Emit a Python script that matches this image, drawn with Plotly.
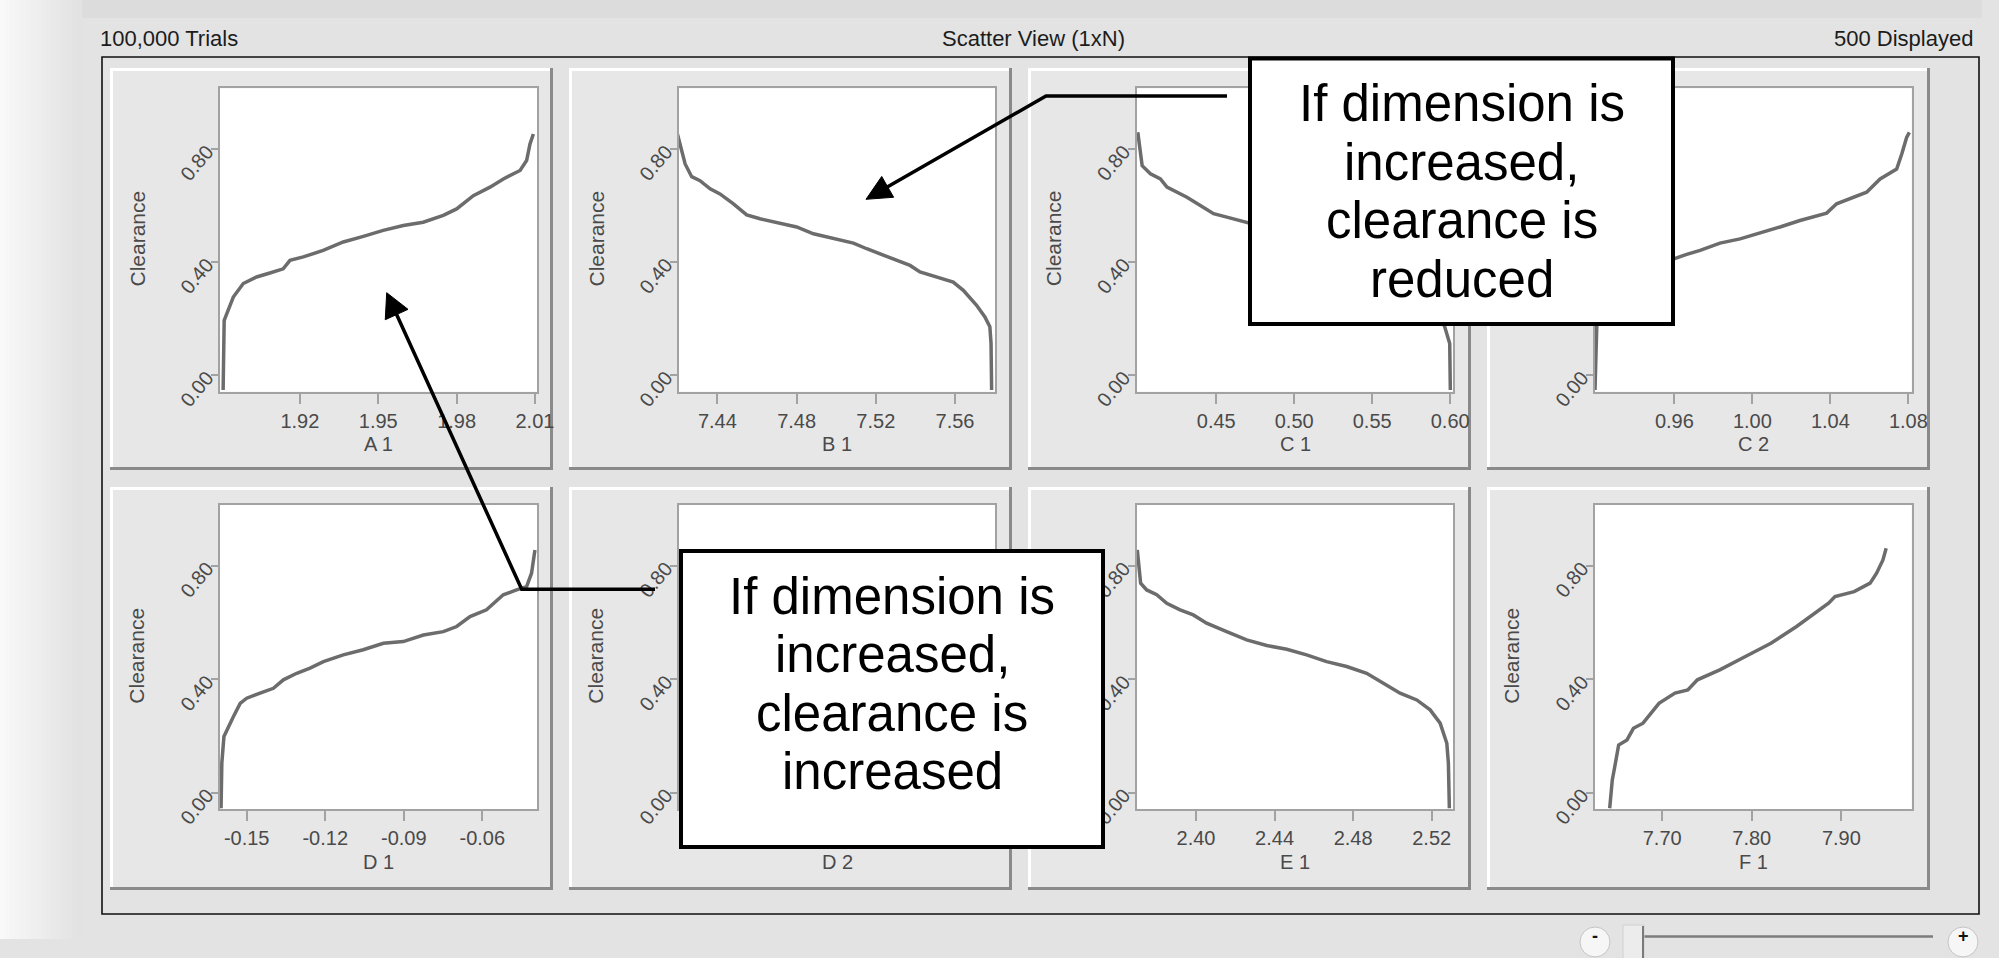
import plotly.graph_objects as go

# ---------------- data ----------------
header_left = "100,000 Trials"
header_center = "Scatter View (1xN)"
header_right = "500 Displayed"
y_title = "Clearance"
callout_reduced = ["If dimension is", "increased,", "clearance is", "reduced"]
callout_increased = ["If dimension is", "increased,", "clearance is", "increased"]

panel_names = ["A 1", "B 1", "C 1", "C 2", "D 1", "D 2", "E 1", "F 1"]

a1_x = [1.8906, 1.8910, 1.8925, 1.8945, 1.8983, 1.9034, 1.9085, 1.9136, 1.9162, 1.9213, 1.9289,
        1.9366, 1.9443, 1.9519, 1.9596, 1.9672, 1.9749, 1.9800, 1.9864, 1.9928, 1.9979, 2.0043,
        2.0068, 2.0081, 2.0094]
a1_y = [-0.053, 0.194, 0.229, 0.276, 0.324, 0.347, 0.361, 0.376, 0.406, 0.418, 0.441,
        0.471, 0.491, 0.512, 0.529, 0.541, 0.565, 0.588, 0.635, 0.665, 0.694, 0.724,
        0.759, 0.818, 0.853]

b1_x = [7.4198, 7.4215, 7.4237, 7.4270, 7.4312, 7.4363, 7.4413, 7.4481, 7.4548, 7.4615, 7.4700,
        7.4800, 7.4885, 7.4986, 7.5087, 7.5154, 7.5221, 7.5289, 7.5373, 7.5423, 7.5507, 7.5591,
        7.5642, 7.5709, 7.5751, 7.5776, 7.5782, 7.5785]
b1_y = [0.853, 0.806, 0.747, 0.702, 0.688, 0.659, 0.641, 0.606, 0.567, 0.553, 0.541,
        0.524, 0.500, 0.482, 0.467, 0.447, 0.429, 0.412, 0.388, 0.365, 0.347, 0.329,
        0.300, 0.247, 0.206, 0.171, 0.112, -0.053]

c1_x = [0.3997, 0.4010, 0.4025, 0.4078, 0.4142, 0.4184, 0.4248, 0.4312, 0.4398, 0.4483, 0.4568,
        0.4654, 0.4718, 0.4900, 0.5100, 0.5300, 0.5500, 0.5650, 0.5800, 0.5900, 0.5965, 0.5997,
        0.6001]
c1_y = [0.859, 0.794, 0.741, 0.712, 0.694, 0.665, 0.647, 0.629, 0.600, 0.571, 0.559,
        0.547, 0.538, 0.510, 0.480, 0.440, 0.400, 0.360, 0.310, 0.250, 0.171, 0.112,
        -0.053]

c2_x = [0.9193, 0.9198, 0.9202, 0.9210, 0.9230, 0.9270, 0.9330, 0.9400, 0.9480, 0.9550, 0.9595,
        0.9663, 0.9732, 0.9834, 0.9937, 1.0039, 1.0142, 1.0244, 1.0381, 1.0432, 1.0518, 1.0586,
        1.0655, 1.0740, 1.0766, 1.0791, 1.0805]
c2_y = [-0.053, 0.100, 0.171, 0.220, 0.270, 0.310, 0.340, 0.360, 0.385, 0.400, 0.412,
        0.427, 0.441, 0.467, 0.482, 0.502, 0.524, 0.547, 0.573, 0.606, 0.629, 0.647,
        0.694, 0.729, 0.782, 0.841, 0.859]

d1_x = [-0.1598, -0.1595, -0.1587, -0.1570, -0.1551, -0.1525, -0.1500, -0.1449, -0.1398, -0.1360,
        -0.1309, -0.1258, -0.1207, -0.1131, -0.1055, -0.0978, -0.0902, -0.0825, -0.0749, -0.0698,
        -0.0647, -0.0584, -0.0520, -0.0469, -0.0431, -0.0412, -0.0405, -0.0399]
d1_y = [-0.055, 0.104, 0.198, 0.233, 0.268, 0.315, 0.333, 0.351, 0.368, 0.398,
        0.421, 0.439, 0.462, 0.486, 0.504, 0.527, 0.533, 0.556, 0.568, 0.586,
        0.621, 0.645, 0.698, 0.715, 0.727, 0.774, 0.821, 0.856]

d2_x = [4.975, 4.976, 4.979, 4.985, 4.995, 5.010, 5.025, 5.040, 5.055, 5.070, 5.078, 5.082, 5.084]
d2_y = [-0.053, 0.180, 0.270, 0.330, 0.380, 0.430, 0.480, 0.520, 0.560, 0.630, 0.680, 0.750, 0.820]

e1_x = [2.3701, 2.3710, 2.3718, 2.3749, 2.3800, 2.3851, 2.3919, 2.3986, 2.4054, 2.4156, 2.4258,
        2.4360, 2.4462, 2.4563, 2.4665, 2.4767, 2.4869, 2.4954, 2.5039, 2.5124, 2.5192, 2.5243,
        2.5277, 2.5285, 2.5290]
e1_y = [0.856, 0.798, 0.739, 0.715, 0.698, 0.668, 0.645, 0.627, 0.598, 0.568, 0.539,
        0.519, 0.506, 0.486, 0.462, 0.445, 0.421, 0.386, 0.351, 0.327, 0.292, 0.245,
        0.174, 0.104, -0.055]

f1_x = [7.6414, 7.6443, 7.6471, 7.6514, 7.6607, 7.6679, 7.6786, 7.6857, 7.6964, 7.7143, 7.7286,
        7.7393, 7.7643, 7.7929, 7.8214, 7.8500, 7.8714, 7.8857, 7.8929, 7.9143, 7.9321, 7.9393,
        7.9464, 7.9500]
f1_y = [-0.055, 0.045, 0.092, 0.168, 0.186, 0.227, 0.245, 0.274, 0.315, 0.351, 0.362,
        0.398, 0.433, 0.480, 0.527, 0.586, 0.633, 0.668, 0.692, 0.709, 0.739, 0.774,
        0.821, 0.862]

a1_ticks = [1.92, 1.95, 1.98, 2.01]
b1_ticks = [7.44, 7.48, 7.52, 7.56]
c1_ticks = [0.45, 0.50, 0.55, 0.60]
c2_ticks = [0.96, 1.00, 1.04, 1.08]
d1_ticks = [-0.15, -0.12, -0.09, -0.06]
d2_ticks = [5.00, 5.03, 5.06]
e1_ticks = [2.40, 2.44, 2.48, 2.52]
f1_ticks = [7.70, 7.80, 7.90]
y_ticks = [0.0, 0.4, 0.8]

a1_range = [1.8894, 2.0109]
b1_range = [7.4206, 7.5802]
c1_range = [0.3990, 0.6020]
c2_range = [0.9193, 1.0817]
d1_range = [-0.1602, -0.0390]
d2_range = [4.9690, 5.0910]
e1_range = [2.3698, 2.5310]
f1_range = [7.6250, 7.9785]
y_range = [-0.0588, 1.0147]

# ---------------- layout geometry (reference pixels -> paper fractions) ----------------
# the plotting area that the browser actually gives the figure
WF, HF = 1982.0, 939.0
FONT = "Liberation Sans, Arial, sans-serif"


def fx(px):
    return px / WF


def fy(py):
    return 1 - py / HF


col_px = [(220.0, 537.3), (679.0, 995.0), (1136.7, 1453.3), (1595.0, 1911.7)]
row_px = [(88.3, 391.7), (505.0, 809.3)]
panel_left = [110, 569, 1028, 1487]
panel_w = 443
panel_rows = [(68, 470), (487, 890)]
show_ytitle = [True, True, True, False, True, True, False, True]

panels = [
    (a1_x, a1_y, a1_range, a1_ticks),
    (b1_x, b1_y, b1_range, b1_ticks),
    (c1_x, c1_y, c1_range, c1_ticks),
    (c2_x, c2_y, c2_range, c2_ticks),
    (d1_x, d1_y, d1_range, d1_ticks),
    (d2_x, d2_y, d2_range, d2_ticks),
    (e1_x, e1_y, e1_range, e1_ticks),
    (f1_x, f1_y, f1_range, f1_ticks),
]

fig = go.Figure()
shapes = []
annotations = []

# window background pieces
n_strips = 16
for k in range(n_strips):
    g = int(249 - (249 - 226) * k / (n_strips - 1))
    shapes.append(dict(type="rect", xref="paper", yref="paper", layer="below",
                       x0=fx(82 * k / n_strips), x1=fx(82 * (k + 1) / n_strips + 0.5),
                       y0=0, y1=1, line=dict(width=0),
                       fillcolor=f"rgb({g},{g},{g})"))
shapes.append(dict(type="rect", xref="paper", yref="paper", layer="below",
                   x0=fx(82), x1=1, y0=fy(18), y1=1, line=dict(width=0),
                   fillcolor="#dcdcdc"))
# outer frame
shapes.append(dict(type="rect", xref="paper", yref="paper", layer="below",
                   x0=fx(102), x1=fx(1979), y0=fy(914), y1=fy(57),
                   line=dict(color="#111111", width=1.6), fillcolor="#e3e3e3"))

# raised panels + white plot backgrounds
for i in range(8):
    r, c = divmod(i, 4)
    L, R = panel_left[c], panel_left[c] + panel_w
    T, B = panel_rows[r]
    shapes.append(dict(type="rect", xref="paper", yref="paper", layer="below",
                       x0=fx(L), x1=fx(R), y0=fy(B), y1=fy(T), line=dict(width=0),
                       fillcolor="#e7e7e7"))
    shapes.append(dict(type="path", xref="paper", yref="paper", layer="below",
                       path=f"M{fx(L+1.5)},{fy(B)} L{fx(L+1.5)},{fy(T+1.5)} L{fx(R)},{fy(T+1.5)}",
                       line=dict(color="#ffffff", width=3)))
    shapes.append(dict(type="path", xref="paper", yref="paper", layer="below",
                       path=f"M{fx(L)},{fy(B-1.5)} L{fx(R-1.5)},{fy(B-1.5)} L{fx(R-1.5)},{fy(T)}",
                       line=dict(color="#8a8a8a", width=3)))
    x0, x1 = col_px[c]
    y0, y1 = row_px[r]
    shapes.append(dict(type="rect", xref="paper", yref="paper", layer="below",
                       x0=fx(x0), x1=fx(x1), y0=fy(y1), y1=fy(y0), line=dict(width=0),
                       fillcolor="#ffffff"))

# slider at the bottom right
shapes.append(dict(type="circle", xref="paper", yref="paper", layer="below",
                   x0=fx(1580), x1=fx(1610), y0=fy(957), y1=fy(927),
                   line=dict(color="#c4c4c4", width=1), fillcolor="#f6f6f6"))
shapes.append(dict(type="line", xref="paper", yref="paper", layer="below",
                   x0=fx(1644), x1=fx(1933), y0=fy(936.5), y1=fy(936.5),
                   line=dict(color="#7c7c7c", width=2.5)))
shapes.append(dict(type="rect", xref="paper", yref="paper", layer="below",
                   x0=fx(1623), x1=fx(1644), y0=fy(960), y1=fy(925),
                   line=dict(color="#d0d0d0", width=1), fillcolor="#ececec"))
shapes.append(dict(type="line", xref="paper", yref="paper", layer="below",
                   x0=fx(1643), x1=fx(1643), y0=fy(960), y1=fy(926),
                   line=dict(color="#7a7a7a", width=2)))
shapes.append(dict(type="circle", xref="paper", yref="paper", layer="below",
                   x0=fx(1948), x1=fx(1978), y0=fy(957), y1=fy(927),
                   line=dict(color="#c4c4c4", width=1), fillcolor="#f6f6f6"))

# traces and axes
axis_common = dict(showline=True, mirror=True, linecolor="#a2a2a2", linewidth=2,
                   ticks="outside", tickcolor="#a2a2a2", tickwidth=1.5,
                   showgrid=False, zeroline=False, fixedrange=True,
                   tickfont=dict(family=FONT, size=20, color="#4a4a4a"))
for i, (xs, ys, xr, tv) in enumerate(panels):
    r, c = divmod(i, 4)
    sfx = "" if i == 0 else str(i + 1)
    fig.add_trace(go.Scatter(x=xs, y=ys, mode="lines", showlegend=False, hoverinfo="skip",
                             line=dict(color="#6c6c6c", width=3.5),
                             xaxis="x" + sfx, yaxis="y" + sfx))
    x0, x1 = col_px[c]
    y0, y1 = row_px[r]
    fig.update_layout(**{
        "xaxis" + sfx: dict(axis_common, domain=[fx(x0), fx(x1)], range=xr,
                            anchor="y" + sfx, tickvals=tv,
                            ticktext=[f"{v:.2f}" for v in tv], ticklen=10,
                            ticklabelstandoff=0),
        "yaxis" + sfx: dict(axis_common, domain=[fy(y1), fy(y0)], range=y_range,
                            anchor="x" + sfx, tickvals=y_ticks,
                            ticktext=[f"{v:.2f}" for v in y_ticks], ticklen=7,
                            tickangle=-50),
    })
    annotations.append(dict(xref="paper", yref="paper", x=fx((x0 + x1) / 2),
                            y=fy(row_px[r][1] + 52.5), text=panel_names[i],
                            showarrow=False, xanchor="center", yanchor="middle",
                            font=dict(family=FONT, size=20, color="#4a4a4a")))
    if show_ytitle[i]:
        annotations.append(dict(xref="paper", yref="paper", x=fx(x0 - 83),
                                y=fy((y0 + y1) / 2 - 1.5), text=y_title, textangle=-90,
                                showarrow=False, xanchor="center", yanchor="middle",
                                font=dict(family=FONT, size=21, color="#4a4a4a")))

# header texts
hdr_font = dict(family=FONT, size=22, color="#1c1c1c")
annotations.append(dict(xref="paper", yref="paper", x=fx(98), y=fy(38), text=header_left,
                        showarrow=False, xanchor="left", yanchor="middle", font=hdr_font))
annotations.append(dict(xref="paper", yref="paper", x=fx(1033), y=fy(38), text=header_center,
                        showarrow=False, xanchor="center", yanchor="middle", font=hdr_font))
annotations.append(dict(xref="paper", yref="paper", x=fx(1975), y=fy(38), text=header_right,
                        showarrow=False, xanchor="right", yanchor="middle", font=hdr_font))
annotations.append(dict(xref="paper", yref="paper", x=fx(1595), y=fy(936), text="<b>-</b>",
                        showarrow=False, xanchor="center", yanchor="middle",
                        font=dict(family=FONT, size=18, color="#111111")))
annotations.append(dict(xref="paper", yref="paper", x=fx(1963), y=fy(936), text="<b>+</b>",
                        showarrow=False, xanchor="center", yanchor="middle",
                        font=dict(family=FONT, size=18, color="#111111")))


# callout arrows
def arrow(points, head_len, head_half):
    (sx, sy) = points[-2]
    (tx, ty) = points[-1]
    dx, dy = tx - sx, ty - sy
    n = (dx * dx + dy * dy) ** 0.5
    ux, uy = dx / n, dy / n
    bx, by = tx - head_len * ux, ty - head_len * uy
    pts = points[:-1] + [(bx + 2 * ux, by + 2 * uy)]
    path = "M" + " L".join(f"{fx(px)},{fy(py)}" for px, py in pts)
    shapes.append(dict(type="path", xref="paper", yref="paper", layer="above", path=path,
                       line=dict(color="#000000", width=3.5)))
    nx, ny = -uy, ux
    tri = (f"M{fx(tx)},{fy(ty)} L{fx(bx + head_half * nx)},{fy(by + head_half * ny)} "
           f"L{fx(bx - head_half * nx)},{fy(by - head_half * ny)} Z")
    shapes.append(dict(type="path", xref="paper", yref="paper", layer="above", path=tri,
                       line=dict(color="#000000", width=1), fillcolor="#000000"))


arrow([(1227, 96), (1046, 96), (866, 199.3)], 25, 12)
arrow([(655, 589.3), (521.7, 589.3), (386.7, 292.7)], 24, 12.5)

# callout boxes
for (bx0, by0, bx1, by1), lines in [((1250, 58.5, 1673, 324), callout_reduced),
                                    ((681, 551, 1103, 847), callout_increased)]:
    shapes.append(dict(type="rect", xref="paper", yref="paper", layer="above",
                       x0=fx(bx0), x1=fx(bx1), y0=fy(by1), y1=fy(by0),
                       line=dict(color="#000000", width=4), fillcolor="#ffffff"))
    first = by0 + 45.5
    for k, t in enumerate(lines):
        annotations.append(dict(xref="paper", yref="paper", x=fx((bx0 + bx1) / 2),
                                y=fy(first + 58.4 * k), text=t, showarrow=False,
                                xanchor="center", yanchor="middle",
                                font=dict(family=FONT, size=51, color="#000000")))

fig.update_layout(autosize=True,
                  margin=dict(l=0, r=0, t=0, b=0, pad=0),
                  paper_bgcolor="#e3e3e3", plot_bgcolor="rgba(0,0,0,0)",
                  shapes=shapes, annotations=annotations, showlegend=False)

post = ("var st=document.createElement('style');"
        "st.textContent='html,body{margin:0;padding:0;width:100%;height:100%;overflow:hidden;background:#e3e3e3;}"
        "body>div{width:100%;height:100%;}';"
        "document.head.appendChild(st);"
        "var gd=document.getElementById('{plot_id}');"
        "gd.style.width='100vw';gd.style.height='100vh';"
        "Plotly.Plots.resize(gd);")

fig.write_html("out.html",
               config={"displayModeBar": False, "responsive": True},
               post_script=post)
